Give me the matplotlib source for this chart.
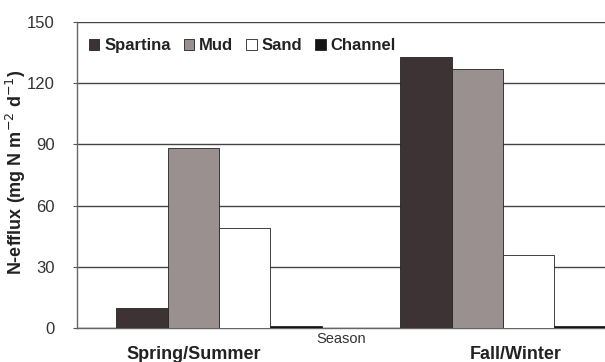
import numpy as np
import matplotlib
matplotlib.use("Agg")
import matplotlib.pyplot as plt

# --- data ---
seasons = ["Spring/Summer", "Fall/Winter"]
habitats = ["Spartina", "Mud", "Sand", "Channel"]
spartina = [10, 133]
mud = [88, 127]
sand = [49, 36]
channel = [1, 1]
y_ticks = [0, 30, 60, 90, 120, 150]

colors = ["#3d3334", "#9b9090", "#ffffff", "#151515"]

plt.rcParams["font.family"] = ["Liberation Sans", "DejaVu Sans"]

fig = plt.figure(figsize=(6.05, 3.62), dpi=100)
# axes from x=77 to the right edge (the original is cropped), y from 328 to 22
ax = fig.add_axes([77 / 605, 1 - 328 / 362, 1 - 77 / 605, (328 - 22) / 362])

x = np.arange(len(seasons))
width = 0.181
series = [spartina, mud, sand, channel]
for i, (name, vals) in enumerate(zip(habitats, series)):
    offset = (i - 1.5) * width
    ax.bar(x + offset, vals, width, color=colors[i], edgecolor="#222222",
           linewidth=0.6, label=name, zorder=3)

ax.set_xlim(-0.5, 1.359)
ax.set_ylim(0, 150)
ax.set_yticks(y_ticks)
ax.set_yticklabels([str(t) for t in y_ticks], fontsize=12, color="#333333")
ax.yaxis.grid(True, color="#444444", linewidth=1.0, zorder=0)
ax.tick_params(axis="y", length=3, width=0.8, color="#555555", pad=13)
ax.set_xticks([])

for side in ["top", "right"]:
    ax.spines[side].set_visible(False)
ax.spines["left"].set_color("#666666")
ax.spines["bottom"].set_color("#666666")
ax.spines["left"].set_linewidth(1.0)
ax.spines["bottom"].set_linewidth(1.0)

# category labels (slightly off-centre in the original)
label_offsets = [-0.088, 0.045]
for xi, lab, off in zip(x, seasons, label_offsets):
    ax.text(xi + off, -0.058, lab, transform=ax.get_xaxis_transform(),
            ha="center", va="top", fontsize=13, fontweight="bold", color="#222222")
ax.text(0.5, -0.014, "Season", transform=ax.transAxes, ha="center", va="top",
        fontsize=10.5, color="#333333")

ax.set_ylabel("N-efflux (mg N m$^{-2}$ d$^{-1}$)", fontsize=13,
              fontweight="bold", color="#222222")
ax.yaxis.set_label_coords(-0.092, 0.51)

leg = ax.legend(loc="upper left", bbox_to_anchor=(0.0, 0.985), ncol=4, frameon=False,
                handlelength=0.65, handleheight=0.65, handletextpad=0.3,
                columnspacing=0.75, borderaxespad=0.3,
                prop={"weight": "bold", "size": 12})
for t in leg.get_texts():
    t.set_color("#222222")

fig.savefig("out.png", dpi=100)
